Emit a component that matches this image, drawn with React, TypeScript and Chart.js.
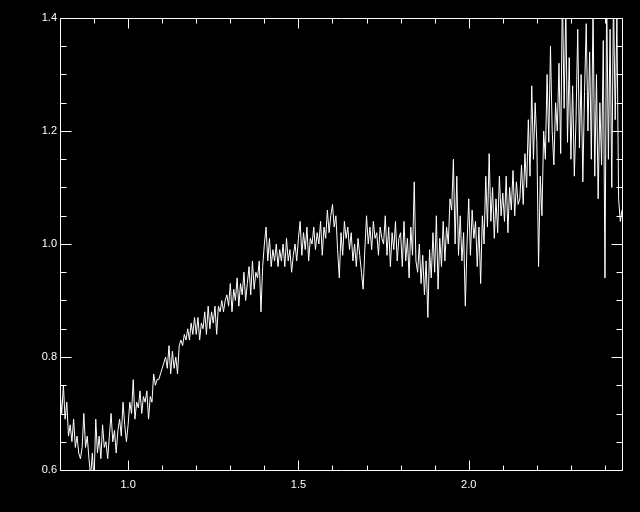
import { useEffect, useRef } from "react";
import { Chart, registerables } from "chart.js";

Chart.register(...registerables);

// Wavelength samples (micron)
const WAVELENGTH = [
  0.800, 0.805, 0.810, 0.815, 0.820, 0.825, 0.830, 0.835, 0.840, 0.845,
  0.850, 0.855, 0.860, 0.865, 0.870, 0.875, 0.880, 0.885, 0.890, 0.895,
  0.900, 0.905, 0.910, 0.915, 0.920, 0.925, 0.930, 0.935, 0.940, 0.945,
  0.950, 0.955, 0.960, 0.965, 0.970, 0.975, 0.980, 0.985, 0.990, 0.995,
  1.000, 1.005, 1.010, 1.015, 1.020, 1.025, 1.030, 1.035, 1.040, 1.045,
  1.050, 1.055, 1.060, 1.065, 1.070, 1.075, 1.080, 1.085, 1.090, 1.095,
  1.100, 1.105, 1.110, 1.115, 1.120, 1.125, 1.130, 1.135, 1.140, 1.145,
  1.150, 1.155, 1.160, 1.165, 1.170, 1.175, 1.180, 1.185, 1.190, 1.195,
  1.200, 1.205, 1.210, 1.215, 1.220, 1.225, 1.230, 1.235, 1.240, 1.245,
  1.250, 1.255, 1.260, 1.265, 1.270, 1.275, 1.280, 1.285, 1.290, 1.295,
  1.300, 1.305, 1.310, 1.315, 1.320, 1.325, 1.330, 1.335, 1.340, 1.345,
  1.350, 1.355, 1.360, 1.365, 1.370, 1.375, 1.380, 1.385, 1.390, 1.395,
  1.400, 1.405, 1.410, 1.415, 1.420, 1.425, 1.430, 1.435, 1.440, 1.445,
  1.450, 1.455, 1.460, 1.465, 1.470, 1.475, 1.480, 1.485, 1.490, 1.495,
  1.500, 1.505, 1.510, 1.515, 1.520, 1.525, 1.530, 1.535, 1.540, 1.545,
  1.550, 1.555, 1.560, 1.565, 1.570, 1.575, 1.580, 1.585, 1.590, 1.595,
  1.600, 1.605, 1.610, 1.615, 1.620, 1.625, 1.630, 1.635, 1.640, 1.645,
  1.650, 1.655, 1.660, 1.665, 1.670, 1.675, 1.680, 1.685, 1.690, 1.695,
  1.700, 1.705, 1.710, 1.715, 1.720, 1.725, 1.730, 1.735, 1.740, 1.745,
  1.750, 1.755, 1.760, 1.765, 1.770, 1.775, 1.780, 1.785, 1.790, 1.795,
  1.800, 1.805, 1.810, 1.815, 1.820, 1.825, 1.830, 1.835, 1.840, 1.845,
  1.850, 1.855, 1.860, 1.865, 1.870, 1.875, 1.880, 1.885, 1.890, 1.895,
  1.900, 1.905, 1.910, 1.915, 1.920, 1.925, 1.930, 1.935, 1.940, 1.945,
  1.950, 1.955, 1.960, 1.965, 1.970, 1.975, 1.980, 1.985, 1.990, 1.995,
  2.000, 2.005, 2.010, 2.015, 2.020, 2.025, 2.030, 2.035, 2.040, 2.045,
  2.050, 2.055, 2.060, 2.065, 2.070, 2.075, 2.080, 2.085, 2.090, 2.095,
  2.100, 2.105, 2.110, 2.115, 2.120, 2.125, 2.130, 2.135, 2.140, 2.145,
  2.150, 2.155, 2.160, 2.165, 2.170, 2.175, 2.180, 2.185, 2.190, 2.195,
  2.200, 2.205, 2.210, 2.215, 2.220, 2.225, 2.230, 2.235, 2.240, 2.245,
  2.250, 2.255, 2.260, 2.265, 2.270, 2.275, 2.280, 2.285, 2.290, 2.295,
  2.300, 2.305, 2.310, 2.315, 2.320, 2.325, 2.330, 2.335, 2.340, 2.345,
  2.350, 2.355, 2.360, 2.365, 2.370, 2.375, 2.380, 2.385, 2.390, 2.395,
  2.400, 2.405, 2.410, 2.415, 2.420, 2.425, 2.430, 2.435, 2.440, 2.445,
  2.450,
];

// Relative flux
const FLUX = [
  0.74, 0.70, 0.75, 0.69, 0.72, 0.66, 0.68, 0.65, 0.69, 0.64,
  0.66, 0.63, 0.62, 0.64, 0.70, 0.64, 0.66, 0.62, 0.59, 0.63,
  0.58, 0.69, 0.63, 0.66, 0.62, 0.68, 0.64, 0.65, 0.62, 0.66,
  0.70, 0.65, 0.67, 0.63, 0.67, 0.69, 0.66, 0.72, 0.68, 0.65,
  0.68, 0.72, 0.70, 0.76, 0.69, 0.72, 0.71, 0.74, 0.70, 0.73,
  0.72, 0.74, 0.69, 0.73, 0.72, 0.77, 0.75, 0.76, 0.76, 0.77,
  0.78, 0.79, 0.80, 0.78, 0.82, 0.77, 0.81, 0.78, 0.80, 0.77,
  0.82, 0.83, 0.82, 0.84, 0.83, 0.85, 0.83, 0.86, 0.84, 0.87,
  0.84, 0.87, 0.83, 0.86, 0.85, 0.88, 0.84, 0.89, 0.85, 0.88,
  0.86, 0.89, 0.84, 0.89, 0.88, 0.90, 0.88, 0.90, 0.91, 0.89,
  0.93, 0.88, 0.92, 0.90, 0.94, 0.89, 0.93, 0.91, 0.95, 0.90,
  0.93, 0.96, 0.91, 0.97, 0.92, 0.95, 0.94, 0.97, 0.88, 0.96,
  1.00, 1.03, 0.97, 1.01, 0.96, 0.99, 0.97, 1.00, 0.96, 0.99,
  0.97, 1.00, 0.96, 1.01, 0.97, 0.99, 0.95, 0.98, 1.00, 0.97,
  1.01, 1.04, 0.98, 1.02, 0.99, 1.03, 0.97, 1.01, 1.00, 1.03,
  0.99, 1.02, 1.00, 1.04, 0.98, 1.03, 1.01, 1.06, 1.02, 1.05,
  1.07, 1.03, 1.05, 0.99, 0.94, 1.02, 0.98, 1.04, 1.01, 1.03,
  0.99, 1.02, 0.97, 1.00, 0.96, 1.01, 0.98, 0.95, 0.92, 0.99,
  1.05, 1.00, 1.03, 0.99, 1.04, 1.01, 1.02, 0.98, 1.03, 1.01,
  1.00, 1.05, 0.98, 1.03, 0.96, 1.02, 0.99, 1.04, 0.97, 1.01,
  1.02, 0.96, 1.04, 0.97, 1.01, 0.94, 1.03, 0.98, 1.11, 0.97,
  0.95, 1.00, 0.93, 0.98, 0.91, 0.97, 0.87, 0.99, 0.94, 1.02,
  0.95, 1.05, 0.92, 1.01, 0.96, 1.04, 0.97, 1.03, 1.00, 1.08,
  1.06, 1.15, 1.00, 1.12, 0.98, 1.05, 0.97, 1.02, 0.89, 1.00,
  1.08, 0.98, 1.06, 1.01, 1.04, 0.96, 1.03, 0.93, 1.05, 1.00,
  1.12, 1.03, 1.16, 1.04, 1.10, 1.01, 1.08, 1.02, 1.12, 1.05,
  1.09, 1.04, 1.12, 1.02, 1.10, 1.06, 1.13, 1.05, 1.11, 1.07,
  1.08, 1.14, 1.07, 1.16, 1.10, 1.22, 1.12, 1.28, 1.15, 1.25,
  1.18, 0.96, 1.12, 1.05, 1.20, 1.15, 1.30, 1.18, 1.35, 1.20,
  1.14, 1.25, 1.20, 1.32, 1.16, 1.45, 1.24, 1.42, 1.18, 1.33,
  1.15, 1.28, 1.12, 1.22, 1.38, 1.17, 1.30, 1.11, 1.27, 1.39,
  1.20, 1.34, 1.15, 1.42, 1.12, 1.30, 1.08, 1.25, 1.14, 1.36,
  0.94, 1.45, 1.15, 1.38, 1.10, 1.44, 1.22, 1.40, 1.08, 1.04,
  1.06,
];

const X_MIN = 0.8;
const X_MAX = 2.45;
const Y_MIN = 0.6;
const Y_MAX = 1.4;

const X_LABEL_TICKS = [1.0, 1.5, 2.0];
const X_MINOR_TICKS = [0.9, 1.1, 1.2, 1.3, 1.4, 1.6, 1.7, 1.8, 1.9, 2.1, 2.2, 2.3, 2.4];
const Y_LABEL_TICKS = [0.6, 0.8, 1.0, 1.2, 1.4];
const Y_MINOR_TICKS = [0.65, 0.7, 0.75, 0.85, 0.9, 0.95, 1.05, 1.1, 1.15, 1.25, 1.3, 1.35];

const FONT = { family: '"Liberation Sans", Arial, sans-serif', size: 11 };

const framePlugin = {
  id: "idlFrame",
  afterDatasetsDraw(chart: any) {
    const { ctx, chartArea: a, scales } = chart;
    const xs = scales.x;
    const ys = scales.y;
    const L = Math.round(a.left) + 0.5;
    const R = Math.round(a.right) + 0.5;
    const T = Math.round(a.top) + 0.5;
    const B = Math.round(a.bottom) + 0.5;
    ctx.save();
    ctx.strokeStyle = "#ffffff";
    ctx.lineWidth = 1;
    ctx.beginPath();
    ctx.moveTo(L, T);
    ctx.lineTo(R, T);
    ctx.lineTo(R, B);
    ctx.lineTo(L, B);
    ctx.closePath();
    const xTick = (v: number, len: number) => {
      const px = Math.round(xs.getPixelForValue(v)) + 0.5;
      ctx.moveTo(px, B);
      ctx.lineTo(px, B - len);
      ctx.moveTo(px, T);
      ctx.lineTo(px, T + len);
    };
    const yTick = (v: number, len: number) => {
      const py = Math.round(ys.getPixelForValue(v)) + 0.5;
      ctx.moveTo(L, py);
      ctx.lineTo(L + len, py);
      ctx.moveTo(R, py);
      ctx.lineTo(R - len, py);
    };
    X_LABEL_TICKS.forEach((v) => xTick(v, 10));
    X_MINOR_TICKS.forEach((v) => xTick(v, 5));
    Y_LABEL_TICKS.forEach((v) => yTick(v, 11));
    Y_MINOR_TICKS.forEach((v) => yTick(v, 6));
    ctx.stroke();
    ctx.restore();
  },
};

export default function App() {
  const canvasRef = useRef<HTMLCanvasElement | null>(null);

  useEffect(() => {
    document.body.style.margin = "0";
    document.body.style.background = "#000000";
    const canvas = canvasRef.current;
    if (!canvas) return;
    const points = WAVELENGTH.map((w, i) => ({ x: w, y: FLUX[i] }));
    const chart = new Chart(canvas, {
      type: "line",
      data: {
        datasets: [
          {
            data: points,
            borderColor: "#ffffff",
            borderWidth: 1,
            pointRadius: 0,
            tension: 0,
            fill: false,
          },
        ],
      },
      options: {
        animation: false,
        responsive: false,
        devicePixelRatio: 1,
        layout: { padding: { top: 18, right: 18, left: 0, bottom: 0 } },
        plugins: { legend: { display: false }, tooltip: { enabled: false } },
        scales: {
          x: {
            type: "linear",
            min: X_MIN,
            max: X_MAX,
            afterBuildTicks: (s: any) => {
              s.ticks = X_LABEL_TICKS.map((v) => ({ value: v }));
            },
            afterFit: (s: any) => {
              s.height = 42;
            },
            ticks: {
              color: "#ffffff",
              font: FONT,
              padding: 8,
              maxRotation: 0,
              autoSkip: false,
              callback: (v: any) => Number(v).toFixed(1),
            },
            grid: { display: false, drawTicks: false },
            border: { display: false },
          },
          y: {
            type: "linear",
            min: Y_MIN,
            max: Y_MAX,
            afterBuildTicks: (s: any) => {
              s.ticks = Y_LABEL_TICKS.map((v) => ({ value: v }));
            },
            afterFit: (s: any) => {
              s.width = 60;
            },
            ticks: {
              color: "#ffffff",
              font: FONT,
              padding: 3,
              autoSkip: false,
              callback: (v: any) => Number(v).toFixed(1),
            },
            grid: { display: false, drawTicks: false },
            border: { display: false },
          },
        },
      },
      plugins: [framePlugin],
    });
    return () => chart.destroy();
  }, []);

  return (
    <div style={{ width: 640, height: 512, background: "#000000" }}>
      <canvas ref={canvasRef} width={640} height={512} style={{ display: "block" }} />
    </div>
  );
}
